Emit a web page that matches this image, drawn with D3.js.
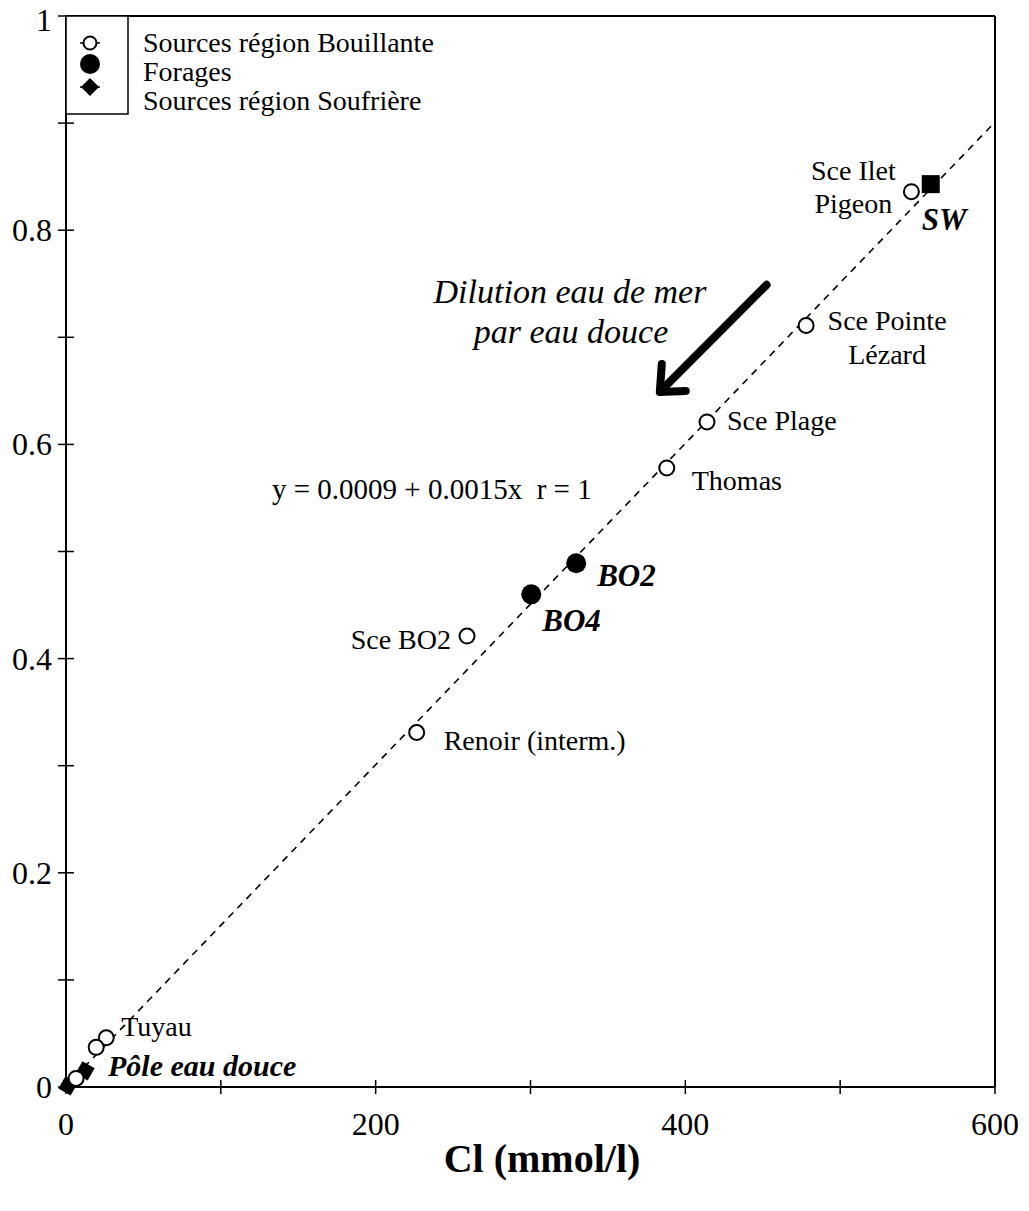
<!DOCTYPE html>
<html>
<head>
<meta charset="utf-8">
<script src="https://cdn.jsdelivr.net/npm/d3@7"></script>
<style>
  body { margin: 0; background: #fff; }
  svg text { font-family: "Liberation Serif", "Times New Roman", serif; fill: #000; }
</style>
</head>
<body>
<div id="chart"></div>
<script>
'use strict';
// Sources région Bouillante (open circles)
var bouillanteNames = ['Sce Ilet Pigeon', 'Sce Pointe Lézard', 'Sce Plage', 'Thomas', 'Sce BO2', 'Renoir (interm.)', 'Tuyau', '', ''];
var bouillanteCl = [546, 478, 414, 388, 259, 226.5, 26, 19.5, 6.5];
var bouillanteY = [0.836, 0.711, 0.621, 0.578, 0.421, 0.331, 0.046, 0.037, 0.008];

// Forages (filled circles)
var foragesNames = ['BO2', 'BO4'];
var foragesCl = [329.5, 300.5];
var foragesY = [0.489, 0.460];

// Sources région Soufrière (diamonds)
var soufriereCl = [1.3, 12.3];
var soufriereY = [0.001, 0.015];

// sea water
var swCl = [558.5];
var swY = [0.843];

var xTicks = [0, 200, 400, 600];
var xMinor = [100, 300, 500];
var yTicks = [0, 0.2, 0.4, 0.6, 0.8, 1];
var yTickLabels = ['0', '0.2', '0.4', '0.6', '0.8', '1'];
var yMinor = [0.1, 0.3, 0.5, 0.7, 0.9];

var fitA = 0.0009, fitB = 0.0015;

var width = 1029, height = 1211;
var svg = d3.select('#chart').append('svg').attr('width', width).attr('height', height);

var x = d3.scaleLinear().domain([0, 600]).range([66, 995]);
var y = d3.scaleLinear().domain([0, 1]).range([1087, 16]);

var g = svg.append('g');

// frame
g.append('line').attr('x1', x(0)).attr('x2', x(600)).attr('y1', y(0)).attr('y2', y(0)).attr('stroke', '#000').attr('stroke-width', 2);
g.append('line').attr('x1', x(0)).attr('x2', x(0)).attr('y1', y(0)).attr('y2', y(1)).attr('stroke', '#000').attr('stroke-width', 2);
g.append('line').attr('x1', x(0)).attr('x2', x(600)).attr('y1', y(1)).attr('y2', y(1)).attr('stroke', '#000').attr('stroke-width', 2);
g.append('line').attr('x1', x(600)).attr('x2', x(600)).attr('y1', y(0)).attr('y2', y(1)).attr('stroke', '#000').attr('stroke-width', 2);

// ticks
g.selectAll('.xt').data(xTicks.concat(xMinor)).enter().append('line')
  .attr('x1', function(d) { return x(d); }).attr('x2', function(d) { return x(d); })
  .attr('y1', y(0) - 7).attr('y2', y(0) + 7)
  .attr('stroke', '#000').attr('stroke-width', 1.5);
g.selectAll('.yt').data(yTicks.concat(yMinor)).enter().append('line')
  .attr('x1', x(0) - 8).attr('x2', x(0) + 8)
  .attr('y1', function(d) { return y(d); }).attr('y2', function(d) { return y(d); })
  .attr('stroke', '#000').attr('stroke-width', 1.5);

g.selectAll('.xl').data(xTicks).enter().append('text')
  .attr('x', function(d) { return x(d); }).attr('y', 1135)
  .attr('text-anchor', 'middle').attr('font-size', 32)
  .text(function(d) { return d; });
g.selectAll('.yl').data(yTicks).enter().append('text')
  .attr('x', 52).attr('y', function(d) { return d === 1 ? y(d) + 15 : y(d) + 11; })
  .attr('text-anchor', 'end').attr('font-size', 32)
  .text(function(d, i) { return yTickLabels[i]; });

g.append('text').attr('x', 542).attr('y', 1172).attr('text-anchor', 'middle')
  .attr('font-size', 40).attr('font-weight', 'bold').text('Cl (mmol/l)');

// regression line
var line = d3.line().x(function(d) { return x(d); }).y(function(d) { return y(fitA + fitB * d); });
g.append('path').datum([0, 600]).attr('d', line)
  .attr('fill', 'none').attr('stroke', '#000').attr('stroke-width', 1.6)
  .attr('stroke-dasharray', '7,6');

function diamond(s) {
  return 'M0,' + (-s) + 'L' + s + ',0L0,' + s + 'L' + (-s) + ',0Z';
}

// soufriere
g.selectAll('.souf').data(soufriereCl).enter().append('path')
  .attr('d', diamond(10))
  .attr('transform', function(d, i) { return 'translate(' + x(d) + ',' + y(soufriereY[i]) + ') rotate(-15)'; })
  .attr('fill', '#000');

// bouillante
g.selectAll('.bou').data(bouillanteCl).enter().append('circle')
  .attr('cx', function(d) { return x(d); })
  .attr('cy', function(d, i) { return y(bouillanteY[i]); })
  .attr('r', 7.5).attr('fill', '#fff').attr('stroke', '#000').attr('stroke-width', 2);

// forages
g.selectAll('.for').data(foragesCl).enter().append('circle')
  .attr('cx', function(d) { return x(d); })
  .attr('cy', function(d, i) { return y(foragesY[i]); })
  .attr('r', 10).attr('fill', '#000');

// sea water
g.selectAll('.sw').data(swCl).enter().append('rect')
  .attr('x', function(d) { return x(d) - 9; })
  .attr('y', function(d, i) { return y(swY[i]) - 9; })
  .attr('width', 18).attr('height', 18).attr('fill', '#000');

// point labels: [text, dx, dy, anchor]
var bouLabels = {
  'Sce Ilet Pigeon': [['Sce Ilet', -58, -12, 'middle'], ['Pigeon', -58, 21, 'middle']],
  'Sce Pointe Lézard': [['Sce Pointe', 81, 4, 'middle'], ['Lézard', 81, 38, 'middle']],
  'Sce Plage': [['Sce Plage', 20, 8, 'start']],
  'Thomas': [['Thomas', 25, 22, 'start']],
  'Sce BO2': [['Sce BO2', -16, 13, 'end']],
  'Renoir (interm.)': [['Renoir (interm.)', 27, 18, 'start']],
  'Tuyau': [['Tuyau', 15, -2, 'start']]
};
bouillanteNames.forEach(function(n, i) {
  (bouLabels[n] || []).forEach(function(l) {
    g.append('text').attr('x', x(bouillanteCl[i]) + l[1]).attr('y', y(bouillanteY[i]) + l[2])
      .attr('text-anchor', l[3]).attr('font-size', 28).text(l[0]);
  });
});

var forOffsets = [[21, 23], [11, 37]];
foragesNames.forEach(function(n, i) {
  g.append('text').attr('x', x(foragesCl[i]) + forOffsets[i][0]).attr('y', y(foragesY[i]) + forOffsets[i][1])
    .attr('font-size', 31).attr('font-weight', 'bold').attr('font-style', 'italic').text(n);
});

g.append('text').attr('x', x(swCl[0]) - 9).attr('y', y(swY[0]) + 46)
  .attr('font-size', 31).attr('font-weight', 'bold').attr('font-style', 'italic').text('SW');

g.append('text').attr('x', x(soufriereCl[1]) + 23).attr('y', y(soufriereY[1]) + 5)
  .attr('font-size', 30).attr('font-weight', 'bold').attr('font-style', 'italic').text('Pôle eau douce');

// equation
g.append('text').attr('x', 272).attr('y', 499).attr('font-size', 29)
  .attr('xml:space', 'preserve').text('y = 0.0009 + 0.0015x  r = 1');

// dilution annotation
g.append('text').attr('x', 570).attr('y', 303).attr('text-anchor', 'middle')
  .attr('font-size', 34).attr('font-style', 'italic').text('Dilution eau de mer');
g.append('text').attr('x', 571).attr('y', 343).attr('text-anchor', 'middle')
  .attr('font-size', 34).attr('font-style', 'italic').text('par eau douce');

var arrowFrom = [452.5, 0.749], arrowTo = [383.5, 0.649];
var ax1 = x(arrowFrom[0]), ay1 = y(arrowFrom[1]), ax2 = x(arrowTo[0]), ay2 = y(arrowTo[1]);
g.append('line').attr('x1', ax1).attr('y1', ay1).attr('x2', ax2 + 3).attr('y2', ay2 - 3)
  .attr('stroke', '#000').attr('stroke-width', 8).attr('stroke-linecap', 'round');
g.append('path')
  .attr('d', 'M' + (ax2 + 2) + ',' + (ay2 - 28) + 'L' + ax2 + ',' + ay2 + 'L' + (ax2 + 26) + ',' + (ay2 - 1))
  .attr('fill', 'none').attr('stroke', '#000').attr('stroke-width', 8)
  .attr('stroke-linecap', 'round').attr('stroke-linejoin', 'round');

// legend
var leg = g.append('g');
leg.append('rect').attr('x', x(0)).attr('y', y(1)).attr('width', 62).attr('height', 98)
  .attr('fill', '#fff').attr('stroke', '#000').attr('stroke-width', 1.5);
var legItems = ['Sources région Bouillante', 'Forages', 'Sources région Soufrière'];
var legY = [43, 64, 87];
var legTextY = [52, 81, 110];
leg.append('line').attr('x1', 80).attr('x2', 100).attr('y1', legY[0]).attr('y2', legY[0]).attr('stroke', '#000').attr('stroke-width', 1.5);
leg.append('circle').attr('cx', 90).attr('cy', legY[0]).attr('r', 6.5).attr('fill', '#fff').attr('stroke', '#000').attr('stroke-width', 2);
leg.append('circle').attr('cx', 90).attr('cy', legY[1]).attr('r', 10).attr('fill', '#000');
leg.append('line').attr('x1', 80).attr('x2', 100).attr('y1', legY[2]).attr('y2', legY[2]).attr('stroke', '#000').attr('stroke-width', 1.5);
leg.append('path').attr('d', diamond(9)).attr('transform', 'translate(90,' + legY[2] + ')').attr('fill', '#000');
leg.selectAll('.lt').data(legItems).enter().append('text')
  .attr('x', 143).attr('y', function(d, i) { return legTextY[i]; })
  .attr('font-size', 28).text(function(d) { return d; });
</script>
</body>
</html>
